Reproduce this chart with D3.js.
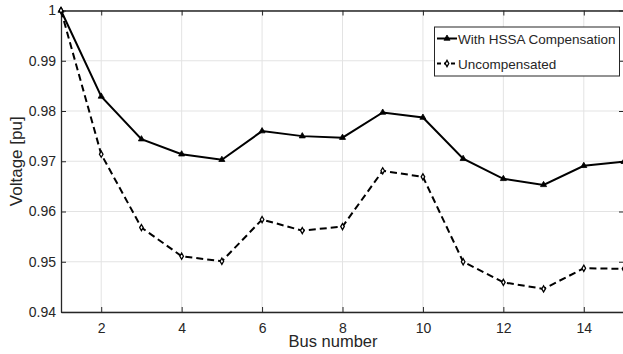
<!DOCTYPE html>
<html>
<head>
<meta charset="utf-8">
<script src="https://cdn.jsdelivr.net/npm/d3@7"></script>
<style>
  body { margin: 0; background: #fff; }
  text { font-family: "Liberation Sans", Arial, sans-serif; fill: #262626; }
</style>
</head>
<body>
<script>
// bus voltage profile

var buses = [1, 2, 3, 4, 5, 6, 7, 8, 9, 10, 11, 12, 13, 14, 15];
var hssa = [1.0, 0.9829, 0.9744, 0.9714, 0.9703, 0.9760, 0.9750, 0.9747, 0.9797, 0.9787, 0.9705, 0.9665, 0.9653, 0.9691, 0.9699];
var uncomp = [1.0, 0.9714, 0.9568, 0.9511, 0.9501, 0.9584, 0.9562, 0.9570, 0.9681, 0.9669, 0.9500, 0.9459, 0.9446, 0.9487, 0.9486];
var xTicks = [2, 4, 6, 8, 10, 12, 14];
var yTicks = [0.94, 0.95, 0.96, 0.97, 0.98, 0.99, 1];
var seriesNames = ["With HSSA Compensation", "Uncompensated"];

var width = 623;
var height = 354;

var pLeft = 61, pRight = 624, pTop = 10.5, pBottom = 312;

var svg = d3.select("body").append("svg")
    .attr("width", width)
    .attr("height", height);

var x = d3.scaleLinear().domain([1, 15]).range([pLeft, pRight]);
var y = d3.scaleLinear().domain([0.94, 1]).range([pBottom, pTop]);

// grid
svg.append("g").selectAll("line")
    .data(xTicks).enter().append("line")
    .attr("x1", function(d) { return x(d); })
    .attr("x2", function(d) { return x(d); })
    .attr("y1", pTop).attr("y2", pBottom)
    .attr("stroke", "#e3e3e3").attr("stroke-width", 1);

svg.append("g").selectAll("line")
    .data(yTicks).enter().append("line")
    .attr("x1", pLeft).attr("x2", pRight)
    .attr("y1", function(d) { return y(d); })
    .attr("y2", function(d) { return y(d); })
    .attr("stroke", "#e3e3e3").attr("stroke-width", 1);

// axes (ticks pointing in)
var fmt = function(d) { return d === 1 ? "1" : d3.format(".2f")(d); };

var xAxis = svg.append("g")
    .attr("transform", "translate(0," + pBottom + ")")
    .call(d3.axisBottom(x).tickValues(xTicks).tickSizeInner(-5).tickSizeOuter(0).tickPadding(11));
var xTopAxis = svg.append("g")
    .attr("transform", "translate(0," + pTop + ")")
    .call(d3.axisTop(x).tickValues(xTicks).tickSizeInner(-5).tickSizeOuter(0).tickFormat(""));
var yAxis = svg.append("g")
    .attr("transform", "translate(" + pLeft + ",0)")
    .call(d3.axisLeft(y).tickValues(yTicks).tickFormat(fmt).tickSizeInner(-5).tickSizeOuter(0).tickPadding(5));
var yRightAxis = svg.append("g")
    .attr("transform", "translate(" + pRight + ",0)")
    .call(d3.axisRight(y).tickValues(yTicks).tickSizeInner(-5).tickSizeOuter(0).tickFormat(""));

[xAxis, xTopAxis, yAxis, yRightAxis].forEach(function(g) {
    g.select(".domain").attr("stroke", "#262626").attr("stroke-width", 1.3);
    g.selectAll(".tick line").attr("stroke", "#262626");
    g.selectAll(".tick text")
        .style("font-family", "Liberation Sans, Arial, sans-serif")
        .style("font-size", "14px")
        .attr("fill", "#262626");
});

// axis labels
svg.append("text")
    .attr("x", 333)
    .attr("y", 347)
    .attr("text-anchor", "middle")
    .style("font-size", "16.5px")
    .text("Bus number");

svg.append("text")
    .attr("transform", "translate(22," + ((pTop + pBottom) / 2) + ") rotate(-90)")
    .attr("text-anchor", "middle")
    .style("font-size", "17px")
    .text("Voltage [pu]");

// lines
var line = d3.line()
    .x(function(d, i) { return x(buses[i]); })
    .y(function(d) { return y(d); });

svg.append("path")
    .datum(hssa)
    .attr("d", line)
    .attr("fill", "none")
    .attr("stroke", "#000")
    .attr("stroke-width", 2);

svg.append("path")
    .datum(uncomp)
    .attr("d", line)
    .attr("fill", "none")
    .attr("stroke", "#000")
    .attr("stroke-width", 2)
    .attr("stroke-dasharray", "7,4");

var tri = d3.symbol().type(d3.symbolTriangle).size(16);
var dia = d3.symbol().type(d3.symbolDiamond).size(11);

svg.append("g").selectAll("path")
    .data(hssa).enter().append("path")
    .attr("d", tri)
    .attr("transform", function(d, i) { return "translate(" + x(buses[i]) + "," + y(d) + ")"; })
    .attr("fill", "#000")
    .attr("stroke", "#000")
    .attr("stroke-width", 0.8);

svg.append("g").selectAll("path")
    .data(uncomp).enter().append("path")
    .attr("d", dia)
    .attr("transform", function(d, i) { return "translate(" + x(buses[i]) + "," + y(d) + ")"; })
    .attr("fill", "#fff")
    .attr("stroke", "#000")
    .attr("stroke-width", 1.3);

// legend
var lg = svg.append("g");
lg.append("rect")
    .attr("x", 434.5).attr("y", 27)
    .attr("width", 185).attr("height", 49)
    .attr("fill", "#fff")
    .attr("stroke", "#262626")
    .attr("stroke-width", 1);

seriesNames.forEach(function(name, i) {
    var ly = 38.5 + i * 25;
    lg.append("line")
        .attr("x1", 437).attr("x2", 457)
        .attr("y1", ly).attr("y2", ly)
        .attr("stroke", "#000")
        .attr("stroke-width", 2)
        .attr("stroke-dasharray", i === 1 ? "4,3" : null);
    lg.append("path")
        .attr("d", i === 0 ? tri : dia)
        .attr("transform", "translate(447," + ly + ")")
        .attr("fill", i === 0 ? "#000" : "#fff")
        .attr("stroke", "#000")
        .attr("stroke-width", i === 0 ? 0.8 : 1.3);
    lg.append("text")
        .attr("x", 458)
        .attr("y", ly + 5)
        .style("font-size", "13.5px")
        .attr("fill", "#000")
        .text(name);
});
</script>
</body>
</html>
